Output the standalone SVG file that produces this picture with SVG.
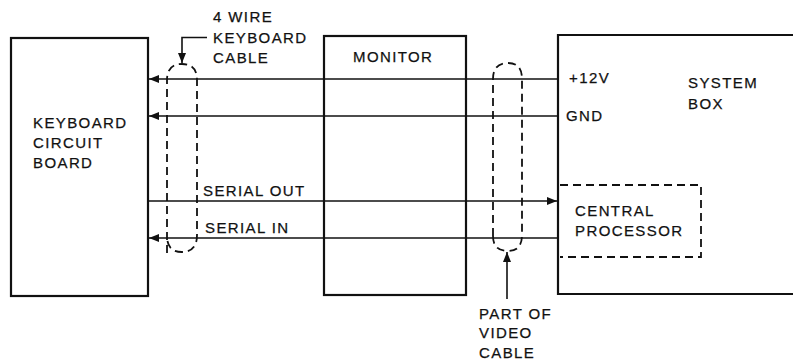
<svg xmlns="http://www.w3.org/2000/svg" width="793" height="364" viewBox="0 0 793 364">
<style>
.box{fill:none;stroke:#111;stroke-width:2.2}
.dash{fill:none;stroke:#111;stroke-width:1.8;stroke-dasharray:8 5}
.wire{fill:none;stroke:#111;stroke-width:1.6}
text{font-family:"Liberation Sans",Arial,sans-serif;font-size:15px;letter-spacing:1.4px;fill:#111;stroke:#111;stroke-width:0.25}
</style>
<defs>
<marker id="ah" viewBox="0 0 10 8" refX="10" refY="4" markerWidth="10" markerHeight="8" markerUnits="userSpaceOnUse" orient="auto">
<path d="M0,0 L10,4 L0,8 z" fill="#111"/>
</marker>
</defs>
<rect width="793" height="364" fill="#fff"/>
<g id="connectors">
<line class="wire" x1="558" y1="79" x2="149" y2="79" marker-end="url(#ah)"/>
<line class="wire" x1="558" y1="116" x2="149" y2="116" marker-end="url(#ah)"/>
<line class="wire" x1="148" y1="201" x2="557" y2="201" marker-end="url(#ah)"/>
<line class="wire" x1="558" y1="238" x2="149" y2="238" marker-end="url(#ah)"/>
<polyline class="wire" points="207,37.5 182,37.5 182,63" marker-end="url(#ah)"/>
<line class="wire" x1="507" y1="299" x2="507" y2="252" marker-end="url(#ah)"/>
</g>
<g id="keyboard">
<rect class="box" x="11" y="38" width="137" height="258"/>
<text x="33" y="128">KEYBOARD</text>
<text x="33" y="148">CIRCUIT</text>
<text x="33" y="168">BOARD</text>
</g>
<g id="monitor">
<rect class="box" x="324" y="36" width="142" height="259"/>
<text x="353" y="62">MONITOR</text>
</g>
<g id="systembox">
<path class="box" d="M800,35 H558 V294 H800"/>
<text x="688" y="88">SYSTEM</text>
<text x="688" y="109">BOX</text>
<text x="569" y="83">+12V</text>
<text x="566" y="121">GND</text>
</g>
<g id="cpu">
<path class="dash" d="M560,185 H701 V257 H560"/>
<text x="575" y="216">CENTRAL</text>
<text x="575" y="236">PROCESSOR</text>
</g>
<g id="kbcable">
<path class="dash" d="M167,253 V80 Q167,64 182,64 Q197,64 197,80 V235 Q197,252 182,252 Q167,252 167,236"/>
<text x="213" y="22">4 WIRE</text>
<text x="213" y="43">KEYBOARD</text>
<text x="213" y="63">CABLE</text>
<text x="203" y="196">SERIAL OUT</text>
<text x="205" y="233">SERIAL IN</text>
</g>
<g id="videocable">
<path class="dash" d="M493,236 V79 Q493,63 508,63 Q522,63 522,79 V235 Q522,251 508,251 Q493,251 493,236"/>
<text x="479" y="319">PART OF</text>
<text x="479" y="338">VIDEO</text>
<text x="479" y="358">CABLE</text>
</g>
</svg>
